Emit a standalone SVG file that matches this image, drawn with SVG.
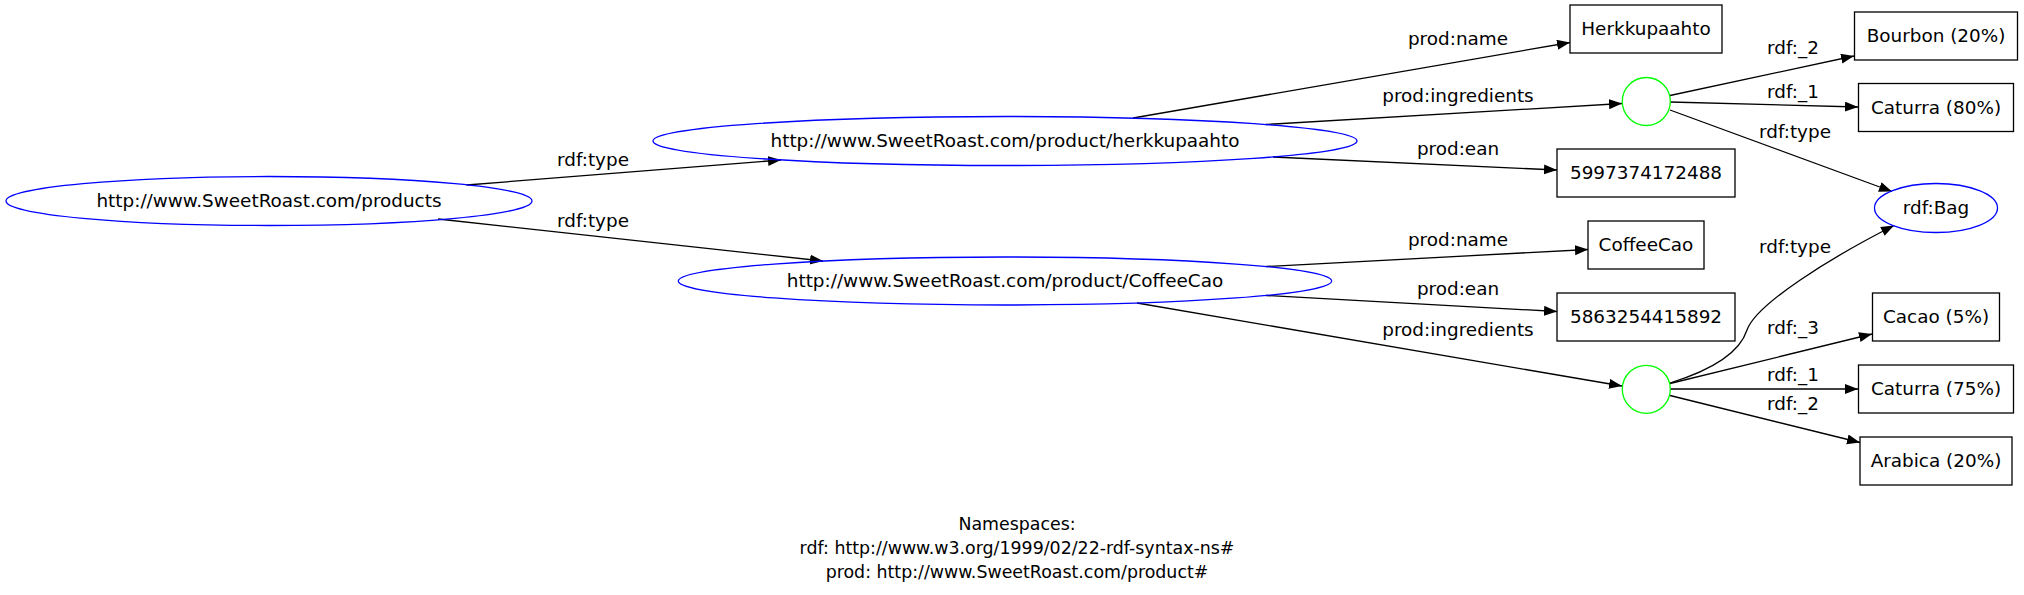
<svg xmlns="http://www.w3.org/2000/svg" width="2024" height="595" viewBox="0 0 2024 595">
<style>
text{font-family:"DejaVu Sans","Liberation Sans",sans-serif;font-size:18.4px;fill:#000;text-anchor:middle}
.ns{font-size:17.4px}
.uri{fill:none;stroke:#0000ff;stroke-width:1.3}
.blank{fill:none;stroke:#00ff00;stroke-width:1.3}
.lit{fill:none;stroke:#000;stroke-width:1.3}
.edge{fill:none;stroke:#000;stroke-width:1.3;marker-end:url(#arr)}
</style>
<defs>
<marker id="arr" markerUnits="userSpaceOnUse" markerWidth="14" markerHeight="11" refX="13" refY="5" orient="auto">
<path d="M0,0 L13,5 L0,10 z" fill="#000"/>
</marker>
</defs>
<rect width="2024" height="595" fill="#fff"/>
<g id="edges">
<path class="edge" d="M466.5,185 L781,160"/>
<text x="593" y="166">rdf:type</text>
<path class="edge" d="M438,219 L823,261"/>
<text x="593" y="227">rdf:type</text>
<path class="edge" d="M1133,118 L1570,42.5"/>
<text x="1458" y="45">prod:name</text>
<path class="edge" d="M1266,124.5 L1622,103.5"/>
<text x="1458" y="102">prod:ingredients</text>
<path class="edge" d="M1273,157 L1557,170"/>
<text x="1458" y="155">prod:ean</text>
<path class="edge" d="M1670,95.5 L1854,56"/>
<text x="1793" y="54">rdf:_2</text>
<path class="edge" d="M1670,102 L1858,107"/>
<text x="1793" y="98">rdf:_1</text>
<path class="edge" d="M1670,110 L1892,191.5"/>
<text x="1795" y="137.5">rdf:type</text>
<path class="edge" d="M1266,266.5 L1588,249.5"/>
<text x="1458" y="246">prod:name</text>
<path class="edge" d="M1266,295.5 L1557,311.5"/>
<text x="1458" y="295">prod:ean</text>
<path class="edge" d="M1137,303 L1622,386"/>
<text x="1458" y="336">prod:ingredients</text>
<path class="edge" d="M1670,383 C1712,370 1740,352 1747,330 C1756,304 1830,258 1894,225.5"/>
<text x="1795" y="252.5">rdf:type</text>
<path class="edge" d="M1670,383.5 L1872,334"/>
<text x="1793" y="334">rdf:_3</text>
<path class="edge" d="M1670,389 L1858,389"/>
<text x="1793" y="381">rdf:_1</text>
<path class="edge" d="M1670,395.5 L1860,442.5"/>
<text x="1793" y="410">rdf:_2</text>
</g>
<g id="n_products">
<ellipse class="uri" cx="269" cy="201" rx="263" ry="24.5"/>
<text x="269" y="207">http://www.SweetRoast.com/products</text>
</g>
<g id="n_herkk">
<ellipse class="uri" cx="1005" cy="141" rx="352" ry="24.5"/>
<text x="1005" y="147">http://www.SweetRoast.com/product/herkkupaahto</text>
</g>
<g id="n_coffeecao">
<ellipse class="uri" cx="1005" cy="281" rx="326.7" ry="24"/>
<text x="1005" y="287">http://www.SweetRoast.com/product/CoffeeCao</text>
</g>
<g id="n_name1">
<rect class="lit" x="1570" y="5" width="152" height="48"/>
<text x="1646" y="35">Herkkupaahto</text>
</g>
<g id="n_blank1">
<circle class="blank" cx="1646.3" cy="101.5" r="24"/>
</g>
<g id="n_ean1">
<rect class="lit" x="1557" y="149" width="178" height="48"/>
<text x="1646" y="179">5997374172488</text>
</g>
<g id="n_bourbon">
<rect class="lit" x="1854.5" y="12" width="163" height="48"/>
<text x="1936" y="42">Bourbon (20%)</text>
</g>
<g id="n_caturra80">
<rect class="lit" x="1858.5" y="83.5" width="155" height="48"/>
<text x="1936" y="113.5">Caturra (80%)</text>
</g>
<g id="n_bag">
<ellipse class="uri" cx="1936" cy="208" rx="61.5" ry="24.5"/>
<text x="1936" y="214">rdf:Bag</text>
</g>
<g id="n_name2">
<rect class="lit" x="1588" y="221" width="116" height="48"/>
<text x="1646" y="251">CoffeeCao</text>
</g>
<g id="n_ean2">
<rect class="lit" x="1557" y="293" width="178" height="48"/>
<text x="1646" y="323">5863254415892</text>
</g>
<g id="n_blank2">
<circle class="blank" cx="1646.3" cy="389.3" r="24"/>
</g>
<g id="n_cacao">
<rect class="lit" x="1872.5" y="293" width="127" height="48"/>
<text x="1936" y="323">Cacao (5%)</text>
</g>
<g id="n_caturra75">
<rect class="lit" x="1858.5" y="365" width="155" height="48"/>
<text x="1936" y="395">Caturra (75%)</text>
</g>
<g id="n_arabica">
<rect class="lit" x="1860" y="437" width="152" height="48"/>
<text x="1936" y="467">Arabica (20%)</text>
</g>
<g id="namespaces">
<text class="ns" x="1017" y="530">Namespaces:</text>
<text class="ns" x="1017" y="554">rdf: http://www.w3.org/1999/02/22-rdf-syntax-ns#</text>
<text class="ns" x="1017" y="578">prod: http://www.SweetRoast.com/product#</text>
</g>
</svg>
